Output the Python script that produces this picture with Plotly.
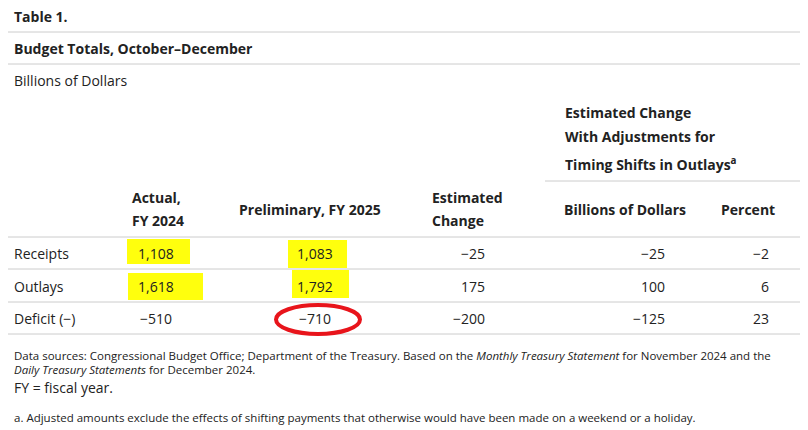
import plotly.graph_objects as go

rows = ["Receipts", "Outlays", "Deficit (\u2212)"]
actual_fy2024 = ["1,108", "1,618", "\u2212510"]
prelim_fy2025 = ["1,083", "1,792", "\u2212710"]
est_change = ["\u221225", "175", "\u2212200"]
adj_billions = ["\u221225", "100", "\u2212125"]
adj_percent = ["\u22122", "6", "23"]

FONT = "Open Sans"
INK = "#222222"
LINE = "#cccccc"

# page body adds an 8px margin, so shift the ranges to keep pixel coordinates
fig = go.Figure()
fig.update_xaxes(range=[8, 816], visible=False, fixedrange=True)
fig.update_yaxes(range=[438, 8], visible=False, fixedrange=True)

def txt(x, y, s, size=14, bold=False, anchor="left", color=INK):
    if bold:
        s = "<b>" + s + "</b>"
    fig.add_annotation(x=x, y=y, text=s, showarrow=False, xanchor=anchor,
                       yanchor="middle", font=dict(family=FONT, size=size, color=color))

def hline(y, x0=0, x1=816):
    fig.add_shape(type="line", x0=x0, x1=x1, y0=y, y1=y, line=dict(color=LINE, width=1))

# highlights behind values
for x0, x1, y0, y1 in [(127, 190, 239, 264), (288, 347, 240, 268),
                       (128, 203, 273, 300), (292, 349, 270, 298)]:
    fig.add_shape(type="rect", x0=x0, x1=x1, y0=y0, y1=y1, fillcolor="#ffff00",
                  line=dict(width=0), layer="below", opacity=0.95)

hline(1)
txt(12, 16, "Table 1.", 14, True)
hline(32)
txt(12, 48, "Budget Totals, October\u2013December", 14, True)
hline(64)
txt(12, 80, "Billions of Dollars", 14)

txt(563, 112, "Estimated Change", 14, True)
txt(563, 136, "With Adjustments for", 14, True)
txt(563, 164, "Timing Shifts in Outlays<sup>a</sup>", 14, True)
hline(181, 545, 816)

txt(130, 197, "Actual,", 14, True)
txt(130, 220, "FY 2024", 14, True)
txt(310, 209, "Preliminary, FY 2025", 14, True, "center")
txt(430, 197, "Estimated", 14, True)
txt(430, 220, "Change", 14, True)
txt(625, 209, "Billions of Dollars", 14, True, "center")
txt(748, 209, "Percent", 14, True, "center")
hline(237)

row_y = [253, 286, 318]
for i, r in enumerate(rows):
    y = row_y[i]
    txt(12, y, r)
    txt(156, y, actual_fy2024[i], anchor="center")
    txt(315, y, prelim_fy2025[i], anchor="center")
    txt(487, y, est_change[i], anchor="right")
    txt(667, y, adj_billions[i], anchor="right")
    txt(771, y, adj_percent[i], anchor="right")
    hline(y + 16)

fig.add_shape(type="circle", x0=276, x1=360, y0=305, y1=334,
              line=dict(color="#e8141b", width=4))

txt(12, 355, "Data sources: Congressional Budget Office; Department of the Treasury. Based on the "
    "<i>Monthly Treasury Statement</i> for November 2024 and the", 11.5)
txt(12, 369, "<i>Daily Treasury Statements</i> for December 2024.", 11.5)
txt(12, 387, "FY = fiscal year.", 14)
txt(12, 417, "a. Adjusted amounts exclude the effects of shifting payments that otherwise would have "
    "been made on a weekend or a holiday.", 11.5)

fig.update_layout(width=808, height=430, margin=dict(l=0, r=0, t=0, b=0),
                  plot_bgcolor="white", paper_bgcolor="white", showlegend=False)
fig.write_html("out.html", config={"displayModeBar": False})
